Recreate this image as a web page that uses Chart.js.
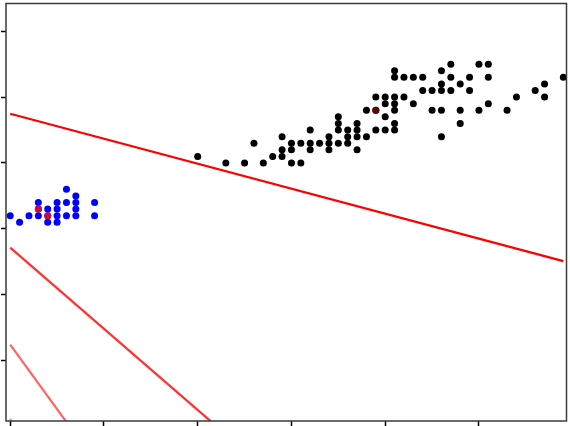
<!DOCTYPE html>
<html>
<head>
<meta charset="utf-8">
<script src="https://cdn.jsdelivr.net/npm/chart.js@4/dist/chart.umd.min.js"></script>
<style>
    html, body { margin: 0; padding: 0; background: #fff; }
    #plot { display: block; }
</style>
</head>
<body>
<canvas id="plot" width="570" height="426"></canvas>
<script>
// petal length / petal width, setosa (blue)
let setosaLength = [1.0, 1.1, 1.2, 1.3, 1.3, 1.3, 1.4, 1.4, 1.4, 1.5, 1.5, 1.5, 1.5,
                    1.6, 1.6, 1.6, 1.7, 1.7, 1.7, 1.7, 1.9, 1.9];
let setosaWidth  = [0.2, 0.1, 0.2, 0.2, 0.3, 0.4, 0.1, 0.2, 0.3, 0.1, 0.2, 0.3, 0.4,
                    0.2, 0.4, 0.6, 0.2, 0.3, 0.4, 0.5, 0.2, 0.4];

// versicolor + virginica (black)
let otherLength = [3.0, 3.3, 3.5, 3.6, 3.7, 3.8, 3.9, 3.9, 3.9, 4.0, 4.0, 4.0, 4.1, 4.1,
                   4.2, 4.2, 4.2, 4.3, 4.4, 4.4, 4.4, 4.5, 4.5, 4.5, 4.5, 4.6, 4.6, 4.6,
                   4.7, 4.7, 4.7, 4.7, 4.8, 4.8, 4.9, 4.9, 4.9, 5.0, 5.0, 5.0, 5.0, 5.1,
                   5.1, 5.1, 5.1, 5.1, 5.1, 5.1, 5.2, 5.2, 5.3, 5.3, 5.4, 5.4, 5.5, 5.5,
                   5.6, 5.6, 5.6, 5.6, 5.6, 5.7, 5.7, 5.7, 5.8, 5.8, 5.8, 5.9, 5.9, 6.0,
                   6.0, 6.1, 6.1, 6.1, 6.3, 6.4, 6.6, 6.7, 6.7, 6.9];
let otherWidth  = [1.1, 1.0, 1.0, 1.3, 1.0, 1.1, 1.1, 1.2, 1.4, 1.0, 1.2, 1.3, 1.0, 1.3,
                   1.2, 1.3, 1.5, 1.3, 1.2, 1.3, 1.4, 1.3, 1.5, 1.6, 1.7, 1.3, 1.4, 1.5,
                   1.2, 1.4, 1.5, 1.6, 1.4, 1.8, 1.5, 1.8, 2.0, 1.5, 1.7, 1.9, 2.0, 1.5,
                   1.6, 1.8, 1.9, 2.0, 2.3, 2.4, 2.0, 2.3, 1.9, 2.3, 2.1, 2.3, 1.8, 2.1,
                   1.4, 1.8, 2.1, 2.2, 2.4, 2.1, 2.3, 2.5, 1.6, 1.8, 2.2, 2.1, 2.3, 1.8,
                   2.5, 1.9, 2.3, 2.5, 1.8, 2.0, 2.1, 2.0, 2.2, 2.3];

// highlighted samples
let markedLength = [1.3, 1.4];
let markedWidth  = [0.3, 0.2];
let darkLength = [4.9];
let darkWidth  = [1.8];

// decision boundaries, value at x = 1.0 and at x = 6.9, oldest first
let lineX = [1.0, 6.9];
let lineStart = [-2.88, -1.755, -0.285, 1.747];
let lineEnd   = [-17.6, -13.32, -7.55, -0.49];
let lineAlpha = [0.4, 0.6, 0.8, 1.0];

let xTicks = [1, 2, 3, 4, 5, 6];
let yTicks = [-2, -1, 0, 1, 2, 3];

function toPoints(xs, ys) {
    return xs.map((x, i) => ({ x: x, y: ys[i] }));
}

function scatterSet(xs, ys, color) {
    return {
        type: "scatter",
        data: toPoints(xs, ys),
        backgroundColor: color,
        borderWidth: 0,
        pointRadius: 3.5,
        pointHoverRadius: 3.5
    };
}

let datasets = [
    scatterSet(markedLength, markedWidth, "#cc0a3a"),
    scatterSet(darkLength, darkWidth, "#560808"),
    scatterSet(setosaLength, setosaWidth, "#0000ff"),
    scatterSet(otherLength, otherWidth, "#000000")
];

lineStart.forEach((y0, i) => {
    datasets.push({
        type: "line",
        data: toPoints(lineX, [y0, lineEnd[i]]),
        borderColor: `rgba(255, 0, 0, ${lineAlpha[i]})`,
        borderWidth: 2.3,
        pointRadius: 0,
        fill: false,
        clip: 0
    });
});

// box around the plot area
const frame = {
    id: "frame",
    afterDraw(chart) {
        const a = chart.chartArea;
        const ctx = chart.ctx;
        ctx.save();
        ctx.strokeStyle = "#3a3a3a";
        ctx.lineWidth = 1.5;
        ctx.strokeRect(a.left, a.top, a.right - a.left, a.bottom - a.top);
        ctx.restore();
    }
};

function axis(ticks, min, max, position) {
    return {
        type: "linear",
        position: position,
        min: min,
        max: max,
        afterBuildTicks: s => { s.ticks = ticks.map(v => ({ value: v })); },
        ticks: { display: false },
        grid: {
            drawOnChartArea: false,
            drawTicks: true,
            tickLength: 5,
            tickWidth: 1.5,
            tickColor: "#000"
        },
        border: { display: false }
    };
}

new Chart(document.getElementById("plot"), {
    data: { datasets: datasets },
    options: {
        responsive: false,
        animation: false,
        layout: { padding: { left: 1, top: 3, right: 2, bottom: 0 } },
        plugins: {
            legend: { display: false },
            tooltip: { enabled: false }
        },
        scales: {
            x: axis(xTicks, 0.955, 6.934, "bottom"),
            y: axis(yTicks, -2.915, 3.42, "left")
        }
    },
    plugins: [frame]
});
</script>
</body>
</html>
